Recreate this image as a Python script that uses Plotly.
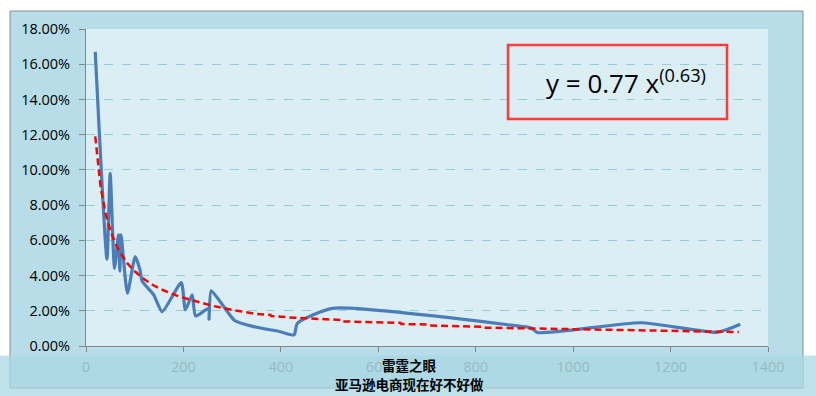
import plotly.graph_objects as go

# Blue series (x, share)
blue_x = [19, 43, 49.6, 58.5, 66.5, 69.5, 72, 85, 101, 111, 115, 139, 156.5, 195.5,
          204, 218, 225, 252, 252.5, 257, 283, 305, 344, 399, 427, 434, 506, 892, 913,
          927, 1139, 1297, 1343]
blue_y = [0.167, 0.0493, 0.0981, 0.0441, 0.0631, 0.0425, 0.0631, 0.030, 0.0507, 0.043,
          0.0370, 0.029, 0.0195, 0.036, 0.0205, 0.029, 0.017, 0.0214, 0.0152, 0.0314,
          0.0223, 0.0145, 0.0110, 0.0081, 0.0063, 0.0129, 0.0214, 0.0112, 0.0104, 0.0076,
          0.0132, 0.0078, 0.0123]

# Red dashed trend series
trend_x = [19, 30, 40, 50, 60, 70, 85, 100, 120, 140, 160, 190, 220, 260, 300, 350, 379,
           380, 430, 500, 523, 524, 600, 646, 647, 700, 701, 800, 817, 818, 900, 1000,
           1100, 1200, 1340]
trend_y = [0.119, 0.0903, 0.0754, 0.0655, 0.0584, 0.053, 0.0469, 0.0424, 0.0378, 0.0342,
           0.0315, 0.0282, 0.0258, 0.0228, 0.0205, 0.0182, 0.0176, 0.0170, 0.0160,
           0.0150, 0.0148, 0.0140, 0.0134, 0.0131, 0.0125, 0.0122, 0.0117, 0.0110,
           0.0109, 0.0104, 0.0101, 0.0096, 0.0091, 0.0086, 0.0079]

y_ticks = [0, 0.02, 0.04, 0.06, 0.08, 0.10, 0.12, 0.14, 0.16, 0.18]
x_ticks = [0, 200, 400, 600, 800, 1000, 1200, 1400]

equation = "y = 0.77 x<sup>(0.63)</sup>"
wm_line1 = "雷霆之眼"
wm_line2 = "亚马逊电商现在好不好做"

fig = go.Figure()
fig.add_trace(go.Scatter(x=blue_x, y=blue_y, mode="lines",
                         line=dict(color="#4a7ebb", width=3.2, shape="spline", smoothing=0.55),
                         showlegend=False, hoverinfo="skip"))
fig.add_trace(go.Scatter(x=trend_x, y=trend_y, mode="lines",
                         line=dict(color="#ff0000", width=2.5, dash="7px,4px"),
                         showlegend=False, hoverinfo="skip"))

W, H = 816, 396
L, R, T, B = 86, 48, 29, 50
pw, ph = W - L - R, H - T - B


def px(x):
    return (x - L) / pw


def py(y):
    return (H - B - y) / ph


shapes = [
    # chart area
    dict(type="rect", xref="paper", yref="paper", x0=px(10), x1=px(803), y0=py(388), y1=py(11),
         fillcolor="#b7dde8", line=dict(color="#8c8c8c", width=1), layer="below"),
    # plot area
    dict(type="rect", xref="paper", yref="paper", x0=0, x1=1, y0=0, y1=1,
         fillcolor="#dbeef4", line=dict(width=0), layer="below"),
    # equation box
    dict(type="rect", xref="paper", yref="paper", x0=px(508), x1=px(727), y0=py(119), y1=py(45),
         fillcolor="rgba(0,0,0,0)", line=dict(color="#ff3b3b", width=2.5), layer="above"),
    # bottom band
    dict(type="rect", xref="paper", yref="paper", x0=px(-5), x1=px(825), y0=py(400), y1=py(355.5),
         fillcolor="rgba(170,215,228,0.76)", line=dict(width=0), layer="above"),
]

annotations = [
    dict(text=equation, xref="paper", yref="paper", x=px(626), y=py(82), xanchor="center",
         yanchor="middle", showarrow=False,
         font=dict(family="Open Sans", size=26, color="#000000")),
    dict(text=wm_line1, xref="paper", yref="paper", x=px(409), y=py(364.5), xanchor="center",
         yanchor="middle", showarrow=False,
         font=dict(family="Noto Sans CJK SC", size=13.5, color="#000000", weight="bold")),
    dict(text=wm_line2, xref="paper", yref="paper", x=px(409), y=py(384), xanchor="center",
         yanchor="middle", showarrow=False,
         font=dict(family="Noto Sans CJK SC", size=13.5, color="#000000", weight="bold")),
]

fig.update_layout(
    width=W, height=H,
    margin=dict(l=L, r=R, t=T, b=B, pad=0),
    paper_bgcolor="#ffffff",
    plot_bgcolor="rgba(0,0,0,0)",
    shapes=shapes,
    annotations=annotations,
    font=dict(family="Open Sans", size=14.5, color="#000000"),
    xaxis=dict(range=[0, 1400], tickvals=x_ticks, ticks="outside", ticklen=5,
               tickcolor="#868686", showline=True, linecolor="#868686", linewidth=1,
               showgrid=False, zeroline=False, tickfont=dict(color="#595959", size=14.5),
               ticklabelstandoff=3, fixedrange=True),
    yaxis=dict(range=[0, 0.18], tickvals=y_ticks, tickformat=".2%", ticks="outside",
               ticklen=6, tickcolor="#868686", showline=True, linecolor="#868686",
               linewidth=1, showgrid=True, gridcolor="#92cddc", griddash="dash",
               gridwidth=1, zeroline=False, tickfont=dict(color="#000000", size=14.5),
               ticklabelstandoff=6, fixedrange=True),
)

fig.write_html("out.html", config={"displayModeBar": False},
               post_script="document.body.style.margin='0';")
